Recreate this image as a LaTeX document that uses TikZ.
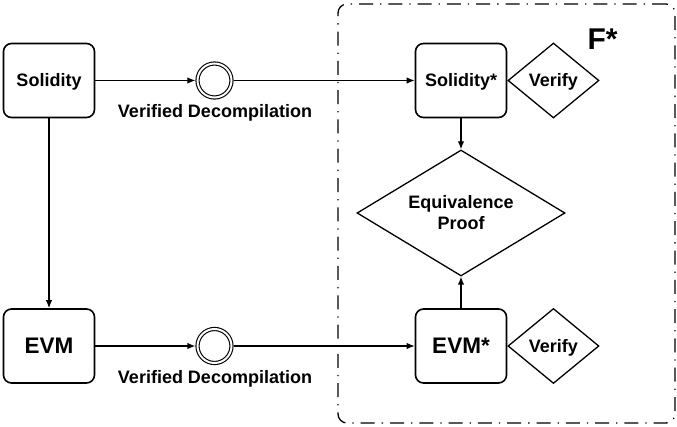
\documentclass[tikz,border=0pt]{standalone}
\usepackage{fontspec}
\setmainfont{Liberation Sans}
\usetikzlibrary{shapes.geometric,arrows.meta}
\begin{document}
\begin{tikzpicture}[x=1pt,y=-1pt,
  every node/.style={font=\bfseries\fontsize{18}{21}\selectfont, inner sep=0pt, text height=13pt, text depth=0pt},
  boxnode/.style={draw, rounded corners=8pt, line width=1.6pt, minimum width=91pt, minimum height=74pt},
  dianode/.style={draw, diamond, line width=1.3pt},
  ringnode/.style={draw, circle, double, double distance=2pt, line width=1.1pt, minimum size=34pt, outer sep=2.1pt},
  labelnode/.style={anchor=base, text height=, text depth=},
  conn/.style={line width=1.3pt, -{Latex[length=8pt,width=6.5pt]}},
  plain/.style={line width=1.3pt}
]
\useasboundingbox (0,0) rectangle (677,427);
\node[draw, rounded corners=9pt, line width=1.3pt, dash pattern=on 14pt off 7pt on 1.3pt off 7pt,
      minimum width=337pt, minimum height=419pt, text height=, text depth=] (frame) at (506.5,213.5) {};
\node[font=\bfseries\fontsize{30}{30}\selectfont, text height=21.5pt] (fstar) at (602.5,39) {F*};

\node[boxnode] (sol) at (49,80.5) {Solidity};
\node[boxnode, font=\bfseries\fontsize{22.5}{26}\selectfont, text height=16pt] (evm) at (49,346) {EVM};
\node[ringnode] (c1) at (214.5,80.5) {};
\node[ringnode] (c2) at (214.5,346) {};
\node[labelnode] (l1) at (215,117.5) {Verified Decompilation};
\node[labelnode] (l2) at (215,383) {Verified Decompilation};

\node[boxnode] (sols) at (461,80.5) {Solidity*};
\node[boxnode, font=\bfseries\fontsize{22.5}{26}\selectfont, text height=16pt] (evms) at (461,346) {EVM*};
\node[dianode, minimum width=91pt, minimum height=75pt, anchor=west] (v1) at (sols.east) {Verify};
\node[dianode, minimum width=91pt, minimum height=75pt, anchor=west] (v2) at (evms.east) {Verify};
\node[dianode, shape aspect=1.65, minimum width=208pt, minimum height=126pt, align=center, text height=, text depth=] (eq) at (461,213) {Equivalence\\Proof};

\draw[conn] (sol.east) -- (c1.west);
\draw[conn] (c1.east) -- (sols.west);
\draw[conn] (evm.east) -- (c2.west);
\draw[conn] (c2.east) -- (evms.west);
\draw[conn] (sol.south) -- (evm.north);
\draw[conn] (sols.south) -- (eq.north);
\draw[conn] (evms.north) -- (eq.south);
\end{tikzpicture}
\end{document}
